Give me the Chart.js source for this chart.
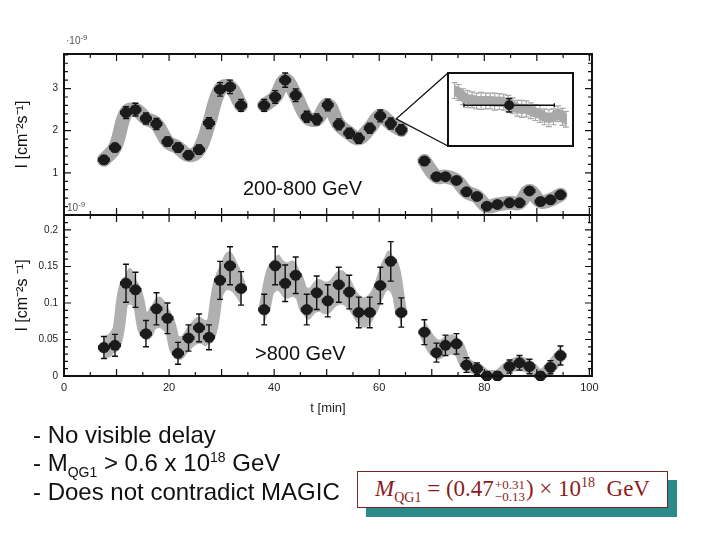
<!DOCTYPE html>
<html>
<head>
<meta charset="utf-8">
<script src="https://cdn.jsdelivr.net/npm/chart.js@4.4.1/dist/chart.umd.min.js"></script>
<style>
  html, body { margin: 0; padding: 0; background: #fff; }
  body { width: 720px; height: 540px; position: relative; overflow: hidden; font-family: "Liberation Sans", Arial, sans-serif; color: #111; }
  canvas { position: absolute; left: 0; }
  #topChart { top: 0; }
  #bottomChart { top: 200px; }
  #inset { position: absolute; left: 447px; top: 72px; width: 123px; height: 71px; border: 2px solid #111; background: #fff; }
  #inset canvas { top: 0; }
  .lbl { position: absolute; white-space: nowrap; }
  .exp { font-size: 10px; color: #555; }
  .exp sup { font-size: 8px; }
  .band { font-size: 20px; }
  .bullet { font-size: 24px; left: 33px; line-height: 28px; }
  sub, sup { line-height: 0; }
  .bullet sub, .bullet sup { font-size: 14px; }
  #formula { position: absolute; left: 357px; top: 471px; width: 311px; height: 37px; box-sizing: border-box;
    border: 1.5px solid #7a2424; background: #fff; box-shadow: 9px 9px 0 #2b8b8b;
    font-family: "Liberation Serif", "DejaVu Serif", serif; color: #8b1c1c; font-size: 23px;
    display: flex; align-items: center; justify-content: center; }
  #formula .scr { display: inline-flex; flex-direction: column; font-size: 13px; line-height: 12px; vertical-align: middle; margin: 0 1px; }
  #formula sub, #formula sup { font-size: 14px; }
</style>
</head>
<body>
<canvas id="topChart" width="720" height="230"></canvas>
<canvas id="bottomChart" width="720" height="240"></canvas>
<div id="inset"><canvas id="insetChart" width="123" height="71"></canvas></div>

<div class="lbl exp" style="left:66px; top:35px;">&middot;10<sup>-9</sup></div>
<div class="lbl exp" style="left:67px; top:202px;">10<sup>-9</sup></div>
<div class="lbl band" style="left:243px; top:177px;">200-800 GeV</div>
<div class="lbl band" style="left:255px; top:342px;">&gt;800 GeV</div>

<div class="lbl bullet" style="top:421px;">- No visible delay</div>
<div class="lbl bullet" style="top:449px;">- M<sub>QG1</sub> &gt; 0.6 x 10<sup>18</sup> GeV</div>
<div class="lbl bullet" style="top:478px;">- Does not contradict MAGIC</div>
<div id="formula"><span><i>M</i><sub>QG1</sub> = (0.47<span class="scr"><span>+0.31</span><span>&minus;0.13</span></span>) &times; 10<sup>18</sup>&nbsp; GeV</span></div>

<script>
Chart.defaults.font.family = '"Liberation Sans", Arial, sans-serif';
Chart.defaults.color = '#222';

// bin centres [min] shared by both energy bands
const timeMin = [7.6, 9.7, 11.8, 13.6, 15.6, 17.6, 19.7, 21.7, 23.7, 25.7,
                 27.6, 29.7, 31.6, 33.7, 38.1, 40.2, 42.1, 44.1, 46.2, 48.1,
                 50.2, 52.3, 54.3, 56.1, 58.2, 60.2, 62.2, 64.2, 68.6, 70.9,
                 72.6, 74.7, 76.6, 78.6, 80.5, 82.5, 84.8, 86.7, 88.6, 90.7,
                 92.6, 94.5];
const binHalfWidth = 1;

// 200-800 GeV, units of 1e-9 cm^-2 s^-1
const fluxLow = [1.31, 1.60, 2.43, 2.50, 2.29, 2.16, 1.74, 1.60, 1.42, 1.55,
                 2.18, 2.98, 3.04, 2.60, 2.60, 2.80, 3.20, 2.84, 2.33, 2.27,
                 2.61, 2.15, 1.94, 1.82, 2.06, 2.35, 2.17, 2.02, 1.28, 0.91,
                 0.91, 0.82, 0.55, 0.44, 0.21, 0.25, 0.29, 0.29, 0.57, 0.32,
                 0.36, 0.48];
const errLow = [0.09, 0.10, 0.14, 0.15, 0.13, 0.13, 0.11, 0.11, 0.10, 0.11,
                0.13, 0.16, 0.16, 0.14, 0.14, 0.15, 0.17, 0.15, 0.13, 0.13,
                0.14, 0.13, 0.12, 0.12, 0.12, 0.14, 0.13, 0.12, 0.09, 0.07,
                0.07, 0.07, 0.06, 0.05, 0.04, 0.04, 0.04, 0.04, 0.06, 0.04,
                0.05, 0.05];

// >800 GeV, units of 1e-9 cm^-2 s^-1
const fluxHigh = [0.039, 0.042, 0.127, 0.118, 0.058, 0.092, 0.079, 0.031, 0.052, 0.066,
                  0.053, 0.131, 0.151, 0.120, 0.091, 0.151, 0.127, 0.138, 0.091, 0.114,
                  0.103, 0.125, 0.115, 0.087, 0.087, 0.124, 0.157, 0.087, 0.060, 0.032,
                  0.042, 0.044, 0.015, 0.010, 0.000, 0.000, 0.013, 0.018, 0.013, 0.000,
                  0.012, 0.028];
const errHigh = [0.015, 0.015, 0.026, 0.024, 0.018, 0.022, 0.021, 0.015, 0.018, 0.019,
                 0.017, 0.026, 0.026, 0.023, 0.021, 0.026, 0.025, 0.025, 0.021, 0.023,
                 0.022, 0.024, 0.023, 0.021, 0.021, 0.025, 0.027, 0.020, 0.017, 0.013,
                 0.014, 0.014, 0.010, 0.008, 0.006, 0.006, 0.009, 0.010, 0.010, 0.006,
                 0.009, 0.013];

// zoomed inset (arbitrary units inside the box)
const insetPos  = [0.5, 4, 8, 12, 16, 20, 24, 28, 32, 36, 40, 44, 48, 52, 56, 60, 64, 68, 72, 76, 80, 84, 88, 92, 96, 99];
const insetFlux = [0.81, 0.78, 0.71, 0.67, 0.66, 0.64, 0.64, 0.64, 0.64, 0.63, 0.63, 0.62, 0.60,
                   0.56, 0.52, 0.51, 0.51, 0.48, 0.45, 0.43, 0.38, 0.36, 0.38, 0.43, 0.38, 0.34];
const insetErr  = [0.13, 0.13, 0.13, 0.14, 0.13, 0.13, 0.14, 0.13, 0.13, 0.14, 0.13, 0.13, 0.13,
                   0.13, 0.13, 0.14, 0.13, 0.13, 0.13, 0.14, 0.13, 0.14, 0.13, 0.13, 0.14, 0.13];
const insetBinPos = [48.8];
const insetBinFlux = [0.57];
const insetBinErrY = 0.11;
const insetBinErrX = 40;

const zoomIdx = 27;   // bin that the inset zooms into
const gapMin = 3;

function points(xs, ys) {
  return xs.map((x, i) => ({x: x, y: ys[i]}));
}

// index ranges of uninterrupted observation
function runs(xs) {
  const out = [];
  let start = 0;
  for (let i = 1; i <= xs.length; i++) {
    if (i === xs.length || xs[i] - xs[i - 1] > gapMin) {
      out.push([start, i]);
      start = i;
    }
  }
  return out;
}

function bandLine(xs, ys, color, width) {
  return runs(xs).map(([a, b]) => ({
    data: points(xs.slice(a, b), ys.slice(a, b)), borderColor: color, borderWidth: width, tension: 0.4,
    borderCapStyle: 'round', borderJoinStyle: 'round', pointRadius: 0, clip: 0, order: 2
  }));
}

// shaded spread of the high-energy light curve: value +/- error, smoothed through midpoints
const bandArea = {
  id: 'bandArea',
  beforeDatasetsDraw(chart) {
    const ctx = chart.ctx;
    const area = chart.chartArea;
    const xs = chart.scales.x;
    const ys = chart.scales.y;
    const smooth = (pts) => {
      for (let k = 1; k < pts.length - 1; k++) {
        const mx = (pts[k][0] + pts[k + 1][0]) / 2;
        const my = (pts[k][1] + pts[k + 1][1]) / 2;
        ctx.quadraticCurveTo(pts[k][0], pts[k][1], mx, my);
      }
      ctx.lineTo(pts[pts.length - 1][0], pts[pts.length - 1][1]);
    };
    ctx.save();
    ctx.beginPath();
    ctx.rect(area.left, area.top, area.right - area.left, area.bottom - area.top);
    ctx.clip();
    ctx.fillStyle = '#b6b6b6';
    runs(timeMin).forEach(([a, b]) => {
      const up = [], dn = [];
      for (let i = a; i < b; i++) {
        const px = xs.getPixelForValue(timeMin[i]);
        up.push([px, ys.getPixelForValue(fluxHigh[i] + errHigh[i])]);
        dn.push([px, ys.getPixelForValue(fluxHigh[i] - errHigh[i])]);
      }
      dn.reverse();
      ctx.beginPath();
      ctx.moveTo(up[0][0], up[0][1]);
      smooth(up);
      ctx.lineTo(dn[0][0], dn[0][1]);
      smooth(dn);
      ctx.closePath();
      ctx.fill();
    });
    ctx.restore();
  }
};

const errorBars = {
  id: 'errorBars',
  beforeDatasetDraw(chart, args) {
    const ds = chart.data.datasets[args.index];
    if (ds.errY === undefined && ds.errX === undefined) return;
    const ctx = chart.ctx;
    const xs = chart.scales[args.meta.xAxisID];
    const ys = chart.scales[args.meta.yAxisID];
    const cap = ds.errCap || 3;
    ctx.save();
    ctx.strokeStyle = ds.errColor || '#111';
    ctx.lineWidth = ds.errWidth || 1.4;
    ds.data.forEach((p, i) => {
      const ey = Array.isArray(ds.errY) ? ds.errY[i] : ds.errY;
      const ex = Array.isArray(ds.errX) ? ds.errX[i] : ds.errX;
      const cx = xs.getPixelForValue(p.x);
      const cy = ys.getPixelForValue(p.y);
      ctx.beginPath();
      if (ey) {
        const y1 = ys.getPixelForValue(p.y + ey);
        const y2 = ys.getPixelForValue(p.y - ey);
        ctx.moveTo(cx, y1); ctx.lineTo(cx, y2);
        ctx.moveTo(cx - cap, y1); ctx.lineTo(cx + cap, y1);
        ctx.moveTo(cx - cap, y2); ctx.lineTo(cx + cap, y2);
      }
      if (ex) {
        const x1 = xs.getPixelForValue(p.x - ex);
        const x2 = xs.getPixelForValue(p.x + ex);
        ctx.moveTo(x1, cy); ctx.lineTo(x2, cy);
        ctx.moveTo(x1, cy - 2); ctx.lineTo(x1, cy + 2);
        ctx.moveTo(x2, cy - 2); ctx.lineTo(x2, cy + 2);
      }
      ctx.stroke();
    });
    ctx.restore();
  }
};

// box frame with inward ticks on all four sides
const frame = {
  id: 'frame',
  afterDatasetsDraw(chart, args, opts) {
    const {ctx, chartArea: a, scales: {x, y}} = chart;
    ctx.save();
    ctx.strokeStyle = '#111';
    ctx.lineWidth = 1.2;
    ctx.beginPath();
    for (let i = 0; i * opts.xMinor <= x.max + 1e-9; i++) {
      const len = (i % opts.xEvery === 0) ? 7 : 4;
      const px = x.getPixelForValue(i * opts.xMinor);
      ctx.moveTo(px, a.bottom); ctx.lineTo(px, a.bottom - len);
      ctx.moveTo(px, a.top); ctx.lineTo(px, a.top + len);
    }
    for (let i = 0; i * opts.yMinor <= y.max + 1e-9; i++) {
      const len = (i % opts.yEvery === 0) ? 7 : 4;
      const py = y.getPixelForValue(i * opts.yMinor);
      ctx.moveTo(a.left, py); ctx.lineTo(a.left + len, py);
      ctx.moveTo(a.right, py); ctx.lineTo(a.right - len, py);
    }
    ctx.stroke();
    ctx.lineWidth = 2;
    ctx.strokeRect(a.left, a.top, a.right - a.left, a.bottom - a.top);
    ctx.restore();
  }
};

const insetPointer = {
  id: 'insetPointer',
  afterDraw(chart) {
    const box = document.getElementById('inset');
    const meta = chart.getDatasetMeta(chart.data.datasets.length - 1);
    const el = meta.data[zoomIdx];
    const ctx = chart.ctx;
    ctx.save();
    ctx.strokeStyle = '#111';
    ctx.lineWidth = 1.3;
    ctx.beginPath();
    ctx.moveTo(box.offsetLeft + 1, box.offsetTop + 1);
    ctx.lineTo(el.x - 5, el.y - 11);
    ctx.lineTo(box.offsetLeft + 1, box.offsetTop + box.offsetHeight - 1);
    ctx.stroke();
    ctx.restore();
  }
};

function yAxis(max, step, title, fmt) {
  return {
    type: 'linear', min: 0, max: max,
    afterFit(scale) { scale.width = 64; },
    grid: {display: false, drawTicks: false},
    border: {display: false},
    ticks: {stepSize: step, includeBounds: false, padding: 6, font: {size: 10}, color: '#222', callback: fmt},
    title: {display: true, text: title, font: {size: 16}, color: '#111', padding: {top: 13, bottom: 0}}
  };
}

new Chart(document.getElementById('topChart'), {
  type: 'line',
  data: {
    datasets: [
      ...bandLine(timeMin, fluxLow, '#a8a8a8', 14),
      {data: points(timeMin, fluxLow), showLine: false, pointRadius: 5.5, pointBorderWidth: 0,
       pointBackgroundColor: '#1b1b1b', errY: errLow, errX: binHalfWidth, clip: 4, order: 1}
    ]
  },
  options: {
    responsive: false, animation: false,
    layout: {padding: {top: 54, right: 128, bottom: 15, left: 0}},
    plugins: {legend: {display: false}, tooltip: {enabled: false},
              frame: {xMinor: 5, xEvery: 2, yMinor: 0.2, yEvery: 5}},
    scales: {
      x: {type: 'linear', min: 0, max: 100.5, display: false},
      y: yAxis(3.82, 1, 'I [cm\u207B\u00B2s\u207B\u00B9]', v => (v === 0 ? '' : v))
    }
  },
  plugins: [errorBars, frame, insetPointer]
});

new Chart(document.getElementById('bottomChart'), {
  type: 'line',
  data: {
    datasets: [
      ...bandLine(timeMin, fluxHigh, '#b0b0b0', 12),
      {data: points(timeMin, fluxHigh), showLine: false, pointRadius: 5.5, pointBorderWidth: 0,
       pointBackgroundColor: '#1b1b1b', errY: errHigh, errX: binHalfWidth, clip: 4, order: 1}
    ]
  },
  options: {
    responsive: false, animation: false,
    layout: {padding: {top: 15, right: 128, bottom: 24, left: 0}},
    plugins: {legend: {display: false}, tooltip: {enabled: false},
              frame: {xMinor: 5, xEvery: 2, yMinor: 0.01, yEvery: 5}},
    scales: {
      x: {type: 'linear', min: 0, max: 100.5,
          afterFit(scale) { scale.height = 40; },
          grid: {display: false, drawTicks: false}, border: {display: false},
          ticks: {stepSize: 20, includeBounds: false, padding: 5, font: {size: 11}, color: '#222'},
          title: {display: true, text: 't [min]', font: {size: 13}, color: '#222', padding: {top: 0, bottom: 0}}},
      y: yAxis(0.2205, 0.05, 'I [cm\u207B\u00B2s \u207B\u00B9]', v => String(+v.toFixed(2)))
    }
  },
  plugins: [bandArea, errorBars, frame]
});

new Chart(document.getElementById('insetChart'), {
  type: 'line',
  data: {
    datasets: [
      {data: points(insetPos, insetFlux), borderColor: '#a8a8a8', borderWidth: 10, tension: 0.4,
       borderCapStyle: 'round', pointRadius: 0, errY: insetErr, errColor: '#a8a8a8', errWidth: 1.2, order: 2},
      {data: points(insetBinPos, insetBinFlux), showLine: false, pointRadius: 5, pointBorderWidth: 0,
       pointBackgroundColor: '#1b1b1b', errY: insetBinErrY, errX: insetBinErrX, order: 1}
    ]
  },
  options: {
    responsive: false, animation: false,
    layout: {padding: 0},
    plugins: {legend: {display: false}, tooltip: {enabled: false}},
    scales: {
      x: {type: 'linear', min: 0, max: 100, display: false},
      y: {type: 'linear', min: 0, max: 1, display: false}
    }
  },
  plugins: [errorBars]
});
</script>
</body>
</html>
